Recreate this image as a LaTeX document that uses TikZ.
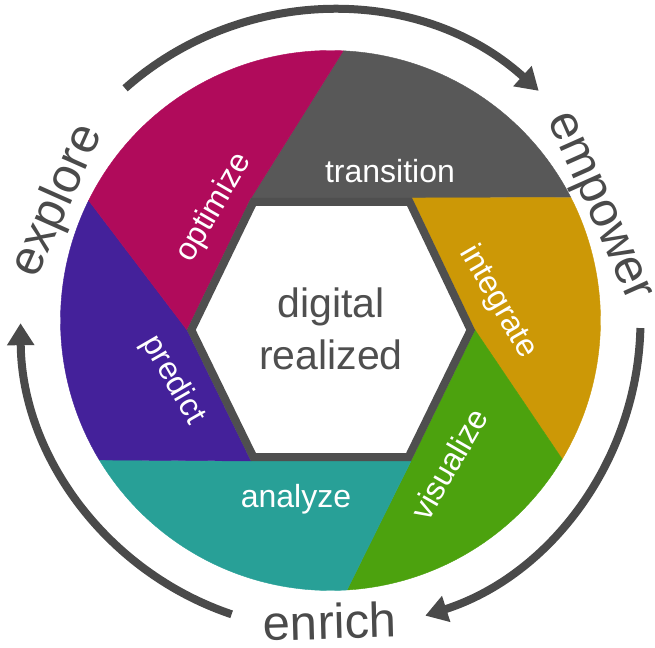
\documentclass[tikz,border=0pt]{standalone}
\usepackage{fontspec}
\setmainfont{Liberation Sans}
\usetikzlibrary{arrows.meta,calc}
\definecolor{cgrey}{HTML}{585858}
\definecolor{cgold}{HTML}{CC9806}
\definecolor{cgreen}{HTML}{4CA20E}
\definecolor{cteal}{HTML}{28A097}
\definecolor{cpurple}{HTML}{44219A}
\definecolor{cmagenta}{HTML}{B00B5B}
\definecolor{cborder}{HTML}{4F4F4F}
\definecolor{cdark}{HTML}{4A4A4A}
\begin{document}
\begin{tikzpicture}[x=1pt,y=1pt,
  lbl/.style={text=white,font=\fontsize{32}{38}\selectfont,inner sep=0pt},
  coretext/.style={text=cborder,font=\fontsize{41}{52}\selectfont,align=center,inner sep=0pt},
  outerword/.style={text=cdark,font=\fontsize{49}{58}\selectfont,inner sep=0pt},
  cyc/.style={draw=cdark,line width=8pt,-{Triangle[width=26pt,length=22pt]}},
  blade/.style={line width=0.4pt}]
\useasboundingbox (0,0) rectangle (655,647);
% centres
\coordinate (C) at (330.5,326.5);
\coordinate (H) at (331,317.5);
% hexagon (outer edge of border)
\coordinate (TL) at (251,449);
\coordinate (TR) at (412,449);
\coordinate (R) at (475,317);
\coordinate (BR) at (411,186);
\coordinate (BL) at (251,186);
\coordinate (L) at (187,317);
% blade ends on the circle
\coordinate (QTL) at ($(C)+(87.3:270)$);
\coordinate (QTR) at ($(C)+(27.1:270)$);
\coordinate (QR) at ($(C)+(-30.9:270)$);
\coordinate (QBR) at ($(C)+(-86.5:270)$);
\coordinate (QBL) at ($(C)+(211.1:270)$);
\coordinate (QL) at ($(C)+(153.6:270)$);
% blades
\filldraw[blade,fill=cgrey,draw=cgrey] (TL) -- (TR) -- (QTR) arc[start angle=27.1,end angle=87.3,radius=270] -- cycle;
\filldraw[blade,fill=cgold,draw=cgold] (TR) -- (R) -- (QR) arc[start angle=-30.9,end angle=27.1,radius=270] -- cycle;
\filldraw[blade,fill=cgreen,draw=cgreen] (R) -- (BR) -- (QBR) arc[start angle=-86.5,end angle=-30.9,radius=270] -- cycle;
\filldraw[blade,fill=cteal,draw=cteal] (BR) -- (BL) -- (QBL) arc[start angle=211.1,end angle=273.5,radius=270] -- cycle;
\filldraw[blade,fill=cpurple,draw=cpurple] (BL) -- (L) -- (QL) arc[start angle=153.6,end angle=211.1,radius=270] -- cycle;
\filldraw[blade,fill=cmagenta,draw=cmagenta] (L) -- (TL) -- (QTL) arc[start angle=87.3,end angle=153.6,radius=270] -- cycle;
% central hexagon
\draw[draw=cborder,fill=white,line width=8pt,line join=miter]
  ($(H)!0.97!(TL)$) -- ($(H)!0.97!(TR)$) -- ($(H)!0.97!(R)$) --
  ($(H)!0.97!(BR)$) -- ($(H)!0.97!(BL)$) -- ($(H)!0.97!(L)$) -- cycle;
% cycle arrows
\coordinate (A1) at ($(C)+(131.5:310)$);
\coordinate (A2) at ($(C)+(-1.4:310)$);
\coordinate (A3) at ($(C)+(251.4:310)$);
\draw[cyc] (A1) arc[start angle=131.5,end angle=47.8,radius=310];
\draw[cyc] (A2) arc[start angle=-1.4,end angle=-72.2,radius=310];
\draw[cyc] (A3) arc[start angle=251.4,end angle=180.5,radius=310];
% labels
\node[lbl] (transition) at (390,475.5) {transition};
\node[lbl,rotate=-60] (integrate) at (498,345) {integrate};
\node[lbl,rotate=60] (visualize) at (449,183) {visualize};
\node[lbl] (analyze) at (296,148) {analyze};
\node[lbl,rotate=-60] (predict) at (173,267) {predict};
\node[lbl,rotate=60] (optimize) at (214,439) {optimize};
\node[coretext] (core) at (331,318) {digital\\realized};
\node[outerword,rotate=66] (explore) at (58,446) {explore};
\node[outerword,rotate=-66] (empower) at (596,439) {empower};
\node[outerword,rotate=1.5] (enrich) at (330,25.5) {enrich};
\end{tikzpicture}
\end{document}
